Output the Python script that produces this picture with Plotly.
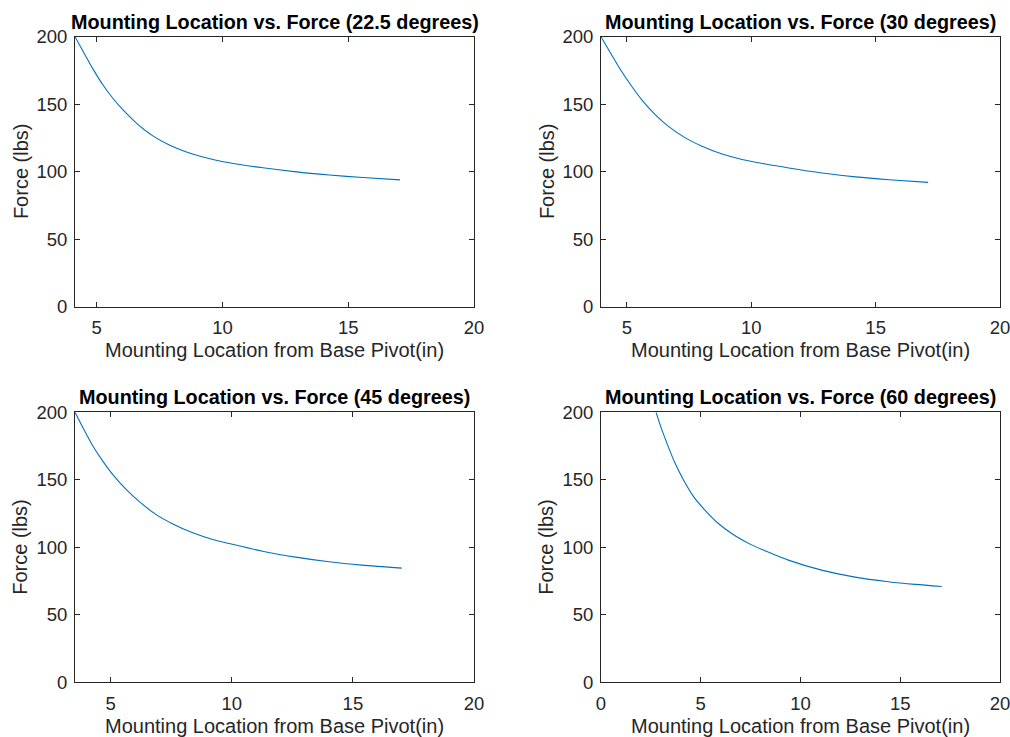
import plotly.graph_objects as go

# ---- data ----
titles = [
    "Mounting Location vs. Force (22.5 degrees)",
    "Mounting Location vs. Force (30 degrees)",
    "Mounting Location vs. Force (45 degrees)",
    "Mounting Location vs. Force (60 degrees)",
]

x_225 = [4.14, 4.47, 4.87, 5.26, 5.66, 6.06, 6.59, 7.25, 7.91, 8.57, 9.23, 9.89, 10.69, 11.61, 12.94, 14.26, 15.58, 17.06]
f_225 = [200, 188.9, 175.6, 164.0, 154.0, 145.5, 135.8, 126.3, 119.6, 114.6, 110.8, 107.9, 105.3, 102.8, 99.8, 97.5, 95.6, 93.9]

x_30 = [3.96, 4.39, 4.79, 5.20, 5.60, 6.14, 6.67, 7.35, 8.02, 8.83, 9.63, 10.57, 11.51, 12.86, 14.20, 15.54, 17.11]
f_30 = [200, 186.5, 174.2, 163.1, 153.2, 142.2, 133.5, 125.0, 118.8, 113.0, 109.0, 105.6, 102.7, 99.0, 96.1, 94.0, 92.0]

x_45 = [3.53, 3.87, 4.28, 4.69, 5.10, 5.65, 6.20, 6.88, 7.57, 8.39, 9.21, 9.90, 11.27, 12.64, 14.01, 15.38, 17.02]
f_45 = [200, 188.2, 174.6, 163.5, 153.7, 142.7, 133.6, 124.2, 117.3, 110.7, 105.8, 102.8, 97.1, 92.7, 89.3, 86.8, 84.6]

x_60 = [2.76, 3.04, 3.37, 3.71, 4.13, 4.63, 5.21, 5.88, 6.72, 7.55, 8.22, 9.39, 11.06, 12.73, 14.40, 15.74, 17.08]
f_60 = [200, 187.5, 174.6, 162.4, 150.0, 137.7, 127.5, 117.6, 108.6, 101.8, 97.5, 90.5, 83.1, 77.9, 74.5, 72.5, 71.0]

x_min = [4.14, 3.96, 3.53, 0]
x_max = 20
x_ticks_a = [5, 10, 15, 20]
x_ticks_b = [0, 5, 10, 15, 20]
y_ticks = [0, 50, 100, 150, 200]

xlabel = "Mounting Location from Base Pivot(in)"
ylabel = "Force (lbs)"

# ---- layout geometry (page pixels) ----
W, H = 1010, 737
cols = [(75, 474), (601, 1000)]
rows = [(36.7, 306.5), (412.3, 682.3)]

FONT = "Liberation Sans, Helvetica, Arial, sans-serif"
DARK = "#262626"
BLUE = "#0072BD"

series = [(x_225, f_225), (x_30, f_30), (x_45, f_45), (x_60, f_60)]
xticks = [x_ticks_a, x_ticks_a, x_ticks_a, x_ticks_b]

fig = go.Figure()
annotations = []
layout = {}

for i in range(4):
    r, c = divmod(i, 2)
    x0, x1 = cols[c]
    y0, y1 = rows[r]
    n = "" if i == 0 else str(i + 1)
    xs, ys = series[i]
    fig.add_trace(go.Scatter(
        x=xs, y=ys, mode="lines",
        line=dict(color=BLUE, width=1.1, shape="spline", smoothing=0.8),
        xaxis="x" + n, yaxis="y" + n, showlegend=False, hoverinfo="x+y",
    ))
    common = dict(
        showline=True, linecolor=DARK, linewidth=1, mirror="allticks",
        ticks="inside", ticklen=5, tickwidth=1, tickcolor=DARK,
        showgrid=False, zeroline=False, automargin=False,
        ticklabeloverflow="allow",
        tickfont=dict(family=FONT, size=18.5, color=DARK),
    )
    layout["xaxis" + n] = dict(
        domain=[x0 / W, x1 / W], anchor="y" + n,
        range=[x_min[i], x_max], tickvals=xticks[i],
        ticklabelstandoff=4,
        **common,
    )
    layout["yaxis" + n] = dict(
        domain=[1 - y1 / H, 1 - y0 / H], anchor="x" + n,
        range=[0, 200], tickvals=y_ticks,
        ticklabelstandoff=3,
        **common,
    )
    cx = (x0 + x1) / 2
    # title
    annotations.append(dict(
        text="<b>" + titles[i] + "</b>", xref="paper", yref="paper",
        x=cx / W, y=1 - (y0 - 15) / H, xanchor="center", yanchor="middle",
        showarrow=False, font=dict(family=FONT, size=19.8, color="#000000"),
    ))
    # x label
    annotations.append(dict(
        text=xlabel, xref="paper", yref="paper",
        x=cx / W, y=1 - (y1 + 43.5) / H, xanchor="center", yanchor="middle",
        showarrow=False, font=dict(family=FONT, size=20, color=DARK),
    ))
    # y label
    annotations.append(dict(
        text=ylabel, xref="paper", yref="paper", textangle=-90,
        x=(x0 - 54.5) / W, y=1 - ((y0 + y1) / 2) / H, xanchor="center", yanchor="middle",
        showarrow=False, font=dict(family=FONT, size=20, color=DARK),
    ))

fig.update_layout(
    width=W, height=H,
    margin=dict(l=0, r=0, t=0, b=0, autoexpand=False),
    paper_bgcolor="white", plot_bgcolor="white",
    annotations=annotations,
    **layout,
)

fig.write_html(
    "out.html",
    config={"displayModeBar": False},
    post_script="document.body.style.margin='0';document.body.style.overflow='hidden';",
)
